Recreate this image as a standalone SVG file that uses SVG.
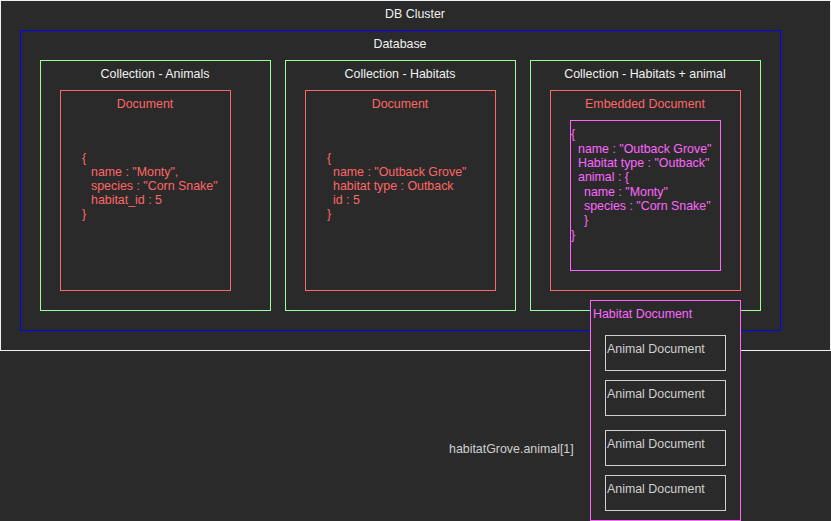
<svg xmlns="http://www.w3.org/2000/svg" width="831" height="521" viewBox="0 0 831 521">
<style>
text{font-family:"Liberation Sans",Arial,sans-serif;font-size:12.4px}
.w{fill:#f0f0f0}
.r{fill:#ff6666}
.p{fill:#ff66ff}
.g{fill:#d0d0d0}
.c{text-anchor:middle}
rect{fill:none}
</style>
<rect x="0" y="0" width="831" height="521" style="fill:#2a2a2a"/>
<g id="cluster">
<rect x="0.5" y="0.5" width="830" height="350" stroke="#f0f0f0"/>
<text class="w c" x="415" y="18">DB Cluster</text>
</g>
<g id="database">
<rect x="20.5" y="30.5" width="760" height="300" stroke="#0000ff"/>
<text class="w c" x="400" y="48">Database</text>
</g>
<g id="col-animals">
<rect x="40.5" y="60.5" width="230" height="250" stroke="#99ff99"/>
<text class="w c" x="155" y="78">Collection - Animals</text>
</g>
<g id="col-habitats">
<rect x="285.5" y="60.5" width="230" height="250" stroke="#99ff99"/>
<text class="w c" x="400" y="78">Collection - Habitats</text>
</g>
<g id="col-habitats-animal">
<rect x="530.5" y="60.5" width="230" height="250" stroke="#99ff99"/>
<text class="w c" x="645" y="78">Collection - Habitats + animal</text>
</g>
<g id="doc-animal">
<rect x="60.5" y="90.5" width="170" height="200" stroke="#ff6666"/>
<text class="r c" x="145" y="108">Document</text>
<text class="r" x="82" y="162">{</text>
<text class="r" x="91" y="176">name : "Monty",</text>
<text class="r" x="91" y="190">species : "Corn Snake"</text>
<text class="r" x="91" y="204">habitat_id : 5</text>
<text class="r" x="82" y="218">}</text>
</g>
<g id="doc-habitat">
<rect x="305.5" y="90.5" width="190" height="200" stroke="#ff6666"/>
<text class="r c" x="400" y="108">Document</text>
<text class="r" x="327" y="162">{</text>
<text class="r" x="333" y="176">name : "Outback Grove"</text>
<text class="r" x="333" y="190">habitat type : Outback</text>
<text class="r" x="333" y="204">id : 5</text>
<text class="r" x="327" y="218">}</text>
</g>
<g id="doc-embedded">
<rect x="550.5" y="90.5" width="190" height="200" stroke="#ff6666"/>
<text class="r c" x="645" y="108">Embedded Document</text>
<rect x="570.5" y="120.5" width="150" height="150" stroke="#ff66ff"/>
<text class="p" x="571" y="138">{</text>
<text class="p" x="578" y="153">name : "Outback Grove"</text>
<text class="p" x="578" y="167">Habitat type : "Outback"</text>
<text class="p" x="578" y="181">animal : {</text>
<text class="p" x="584" y="196">name : "Monty"</text>
<text class="p" x="584" y="210">species : "Corn Snake"</text>
<text class="p" x="584" y="224">}</text>
<text class="p" x="571" y="239">}</text>
</g>
<g id="habitat-document">
<rect x="590.5" y="300.5" width="150" height="220" stroke="#ff66ff" style="fill:#2a2a2a"/>
<text class="p" x="593" y="318">Habitat Document</text>
</g>
<g id="animal-doc-1">
<rect x="605.5" y="335.5" width="120" height="35" stroke="#d0d0d0"/>
<text class="g" x="607" y="353">Animal Document</text>
</g>
<g id="animal-doc-2">
<rect x="605.5" y="380.5" width="120" height="35" stroke="#d0d0d0"/>
<text class="g" x="607" y="398">Animal Document</text>
</g>
<g id="animal-doc-3">
<rect x="605.5" y="430.5" width="120" height="35" stroke="#d0d0d0"/>
<text class="g" x="607" y="448">Animal Document</text>
</g>
<g id="animal-doc-4">
<rect x="605.5" y="475.5" width="120" height="35" stroke="#d0d0d0"/>
<text class="g" x="607" y="493">Animal Document</text>
</g>
<g id="label-grove">
<text class="g" x="449" y="453">habitatGrove.animal[1]</text>
</g>
<g id="connectors"></g>
</svg>
